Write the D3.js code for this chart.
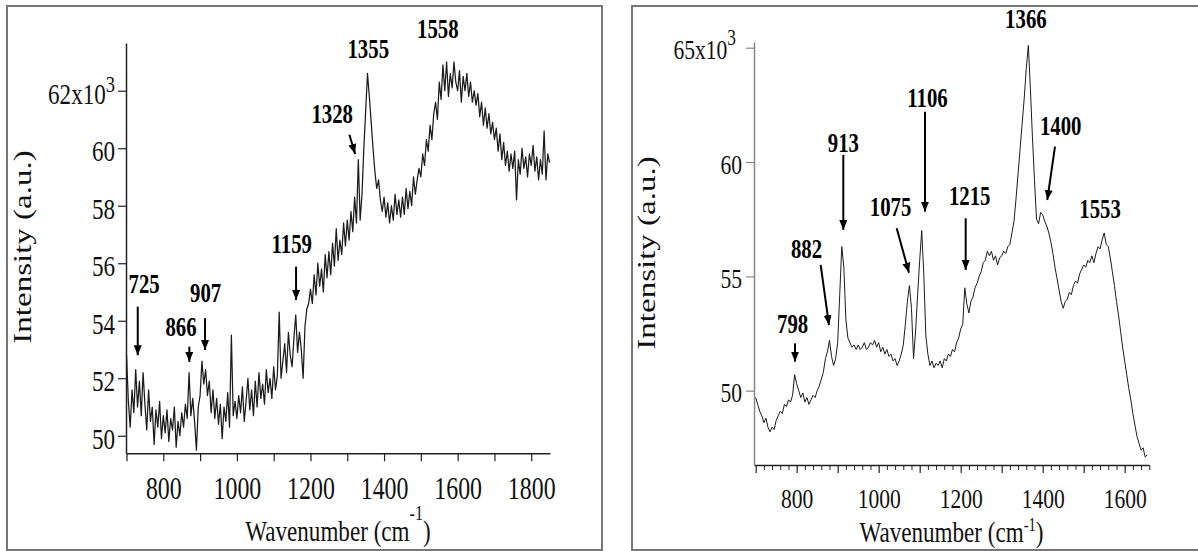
<!DOCTYPE html>
<html><head><meta charset="utf-8">
<script src="https://cdn.jsdelivr.net/npm/d3@7"></script>
<style>html,body{margin:0;padding:0;background:#fff;} svg{display:block}</style>
</head><body>
<svg id="c" width="1198" height="551"></svg>
<script>
// ---------- DATA ----------
// Left spectrum: wavenumber grid 700..1850 step 5 (cm-1), intensity in 10^3 a.u.
const leftStart = 700, leftStep = 5;
const leftIntensity = [
 52.8, 51.2, 50.3, 51.6, 50.8, 52.3, 51.0, 51.9, 50.7, 52.2,
 51.1, 50.2, 51.6, 50.5, 51.0, 49.7, 50.9, 50.3, 51.2, 49.9,
 50.7, 50.1, 50.9, 49.8, 50.6, 50.2, 51.0, 49.6, 50.5, 50.0,
 50.8, 50.3, 51.1, 50.6, 52.2, 50.7, 51.3, 50.5, 49.5, 51.0,
 51.4, 52.6, 51.8, 52.3, 51.4, 51.9, 50.8, 51.6, 50.6, 51.3,
 50.4, 51.1, 49.9, 51.0, 50.5, 51.5, 50.3, 53.5, 50.7, 51.2,
 50.6, 51.4, 50.8, 51.7, 50.5, 51.2, 52.0, 50.9, 51.6, 50.7,
 51.9, 51.0, 52.2, 51.3, 51.8, 51.1, 52.3, 51.5, 52.0, 51.3,
 52.4, 51.6, 52.1, 54.3, 52.0, 52.6, 53.2, 52.2, 53.6, 52.8,
 52.4, 53.4, 54.2, 52.9, 53.6, 53.0, 52.0, 53.8, 54.4, 54.6,
 55.1, 54.6, 55.6, 54.9, 56.0, 55.2, 55.8, 55.0, 56.3, 55.5,
 56.4, 55.6, 56.7, 55.9, 57.2, 56.1, 56.8, 56.3, 57.4, 56.6,
 57.5, 56.8, 57.8, 57.1, 58.3, 57.4, 59.6, 57.5, 58.4, 60.0,
 61.3, 62.6, 61.8, 60.9, 60.0, 59.2, 58.6, 58.9, 58.2, 57.8,
 58.3, 57.6, 58.1, 57.4, 58.0, 57.5, 58.4, 57.7, 58.2, 57.6,
 58.3, 57.7, 58.6, 57.9, 58.5, 58.0, 59.0, 58.4, 58.9, 59.3,
 59.0, 59.8, 59.4, 60.3, 59.9, 60.8, 60.3, 61.2, 61.6, 61.0,
 62.3, 61.7, 62.9, 62.0, 63.0, 61.8, 62.6, 62.1, 63.0, 62.3,
 62.0, 62.7, 61.6, 62.5, 62.0, 62.6, 61.8, 62.3, 61.6, 62.0,
 61.5, 61.9, 61.1, 61.6, 60.8, 61.4, 60.7, 61.2, 60.5, 60.9,
 60.3, 60.7, 59.9, 60.5, 59.6, 60.2, 59.4, 59.9, 59.2, 59.8,
 59.3, 59.9, 58.2, 59.6, 59.1, 60.0, 59.3, 59.7, 59.0, 59.8,
 59.4, 60.1, 59.2, 59.7, 58.9, 59.6, 59.1, 60.6, 58.9, 59.8,
 59.5
];
// Right spectrum: wavenumber grid 700..1655 step 5 (cm-1)
const rightStart = 700, rightStep = 5;
const rightIntensity = [
 49.7, 49.4, 49.1, 48.9, 48.6, 48.8, 48.4, 48.2, 48.4, 48.3,
 48.7, 48.9, 49.1, 49.0, 49.4, 49.3, 49.6, 49.5, 49.8, 50.7,
 50.3, 50.0, 49.7, 49.9, 49.5, 49.7, 49.4, 49.6, 49.8, 49.7,
 50.0, 50.2, 50.5, 50.8, 51.4, 51.7, 52.2, 51.5, 51.1, 51.4,
 52.1, 54.2, 56.3, 55.4, 53.1, 52.3, 52.1, 51.9, 52.0, 51.8,
 52.0, 51.8, 51.9, 52.1, 51.8, 51.9, 52.1, 52.0, 52.2, 51.9,
 52.1, 51.7, 51.9, 51.6, 51.8, 51.5, 51.6, 51.3, 51.4, 51.1,
 51.3, 51.6, 52.0, 52.9, 53.9, 54.6, 53.6, 51.4, 52.6, 54.2,
 55.7, 57.0, 55.1, 52.4, 51.6, 51.1, 51.3, 51.0, 51.2, 51.1,
 51.3, 51.0, 51.4, 51.3, 51.6, 51.5, 51.8, 51.7, 52.1, 52.3,
 52.7, 52.9, 54.5, 53.8, 53.4, 53.9, 54.1, 54.5, 54.7, 55.0,
 55.2, 55.6, 55.7, 56.1, 55.9, 56.1, 55.7, 55.9, 55.5, 55.8,
 55.9, 56.1, 56.0, 56.3, 56.4, 56.9, 57.4, 58.4, 59.5, 60.6,
 61.7, 62.8, 64.1, 65.1, 63.2, 61.1, 59.2, 57.5, 57.3, 57.8,
 57.7, 57.4, 57.2, 56.9, 56.5, 56.0, 55.4, 54.9, 54.4, 53.9,
 53.6, 53.9, 54.0, 54.3, 54.2, 54.6, 54.8, 54.7, 55.1, 55.3,
 55.5, 55.4, 55.7, 55.6, 55.9, 55.6, 56.0, 56.3, 56.2, 56.6,
 56.9, 56.4, 56.3, 55.8, 55.2, 54.6, 53.9, 53.3, 52.6, 51.9,
 51.3, 50.7, 50.1, 49.6, 49.0, 48.5, 48.0, 47.7, 47.4, 47.5,
 47.1, 47.2
];
// Tick values / labels
const leftXTicks = [700, 800, 900, 1000, 1100, 1200, 1300, 1400, 1500, 1600, 1700, 1800];
const leftXLabels = [800, 1000, 1200, 1400, 1600, 1800];
const leftYTicks = [50, 52, 54, 56, 58, 60, 62];
const rightXMajor = [700, 800, 900, 1000, 1100, 1200, 1300, 1400, 1500, 1600];
const rightXMinorStep = 20;
const rightXLabels = [800, 1000, 1200, 1400, 1600];
const rightYTicks = [50, 55, 60, 65];
const yTitle = "Intensity (a.u.)";
const xTitleMain = "Wavenumber (cm", xTitleSup = "-1", xTitleEnd = ")";
// Peak annotations (label position and arrow in data coordinates)
const leftPeaks = [
 {t:"725",  lx:748,  ly:54.96, a:[730.5,54.49,730.5,52.8]},
 {t:"866",  lx:848,  ly:53.47, a:[870.7,53.1,870.7,52.57]},
 {t:"907",  lx:915,  ly:54.66, a:[913.4,54.09,913.4,52.98]},
 {t:"1159", lx:1149, ly:56.35, a:[1160.8,55.88,1160.8,54.72]},
 {t:"1328", lx:1259, ly:60.87, a:[1305.8,60.47,1321.3,59.8]},
 {t:"1355", lx:1357, ly:63.13, a:null},
 {t:"1558", lx:1546, ly:63.82, a:null}
];
const rightPeaks = [
 {t:"798",  lx:790,  ly:52.51, a:[795.9,52.07,795.9,51.27]},
 {t:"882",  lx:824,  ly:55.79, a:[858.5,55.5,878.8,52.87]},
 {t:"913",  lx:914,  ly:60.45, a:[913.7,60.31,913.7,57.03]},
 {t:"1075", lx:1029, ly:57.65, a:[1043.9,57.1,1073.9,55.16]},
 {t:"1106", lx:1119, ly:62.42, a:[1112.9,62.2,1112.9,57.83]},
 {t:"1215", lx:1222, ly:58.12, a:[1212.2,57.54,1212.2,55.28]},
 {t:"1366", lx:1359, ly:65.85, a:null},
 {t:"1400", lx:1444, ly:61.18, a:[1430,60.67,1411.2,58.34]},
 {t:"1553", lx:1540, ly:57.54, a:null}
];

// ---------- DRAW ----------
const SX = 0.77;
const FONT = "'Liberation Serif','Times New Roman',serif";
const svg = d3.select("#c").attr("font-family", FONT);

svg.append("defs").append("marker")
  .attr("id","ah").attr("markerUnits","userSpaceOnUse")
  .attr("markerWidth",10).attr("markerHeight",10)
  .attr("viewBox","0 0 10 10").attr("refX",10).attr("refY",5)
  .attr("orient","auto")
  .append("path").attr("d","M0,1 L10,5 L0,9 Z").attr("fill","#000");

function panel(cfg) {
  const g = svg.append("g");
  g.append("rect").attr("x",cfg.box[0]).attr("y",cfg.box[1])
    .attr("width",cfg.box[2]).attr("height",cfg.box[3])
    .attr("fill","none").attr("stroke","#777").attr("stroke-width",2);

  const x = d3.scaleLinear().domain(cfg.xDom).range(cfg.xRange);
  const y = d3.scaleLinear().domain(cfg.yDom).range(cfg.yRange);
  const y0 = cfg.yRange[0], x0 = cfg.xRange[0];

  // minor x ticks
  if (cfg.xMinor) {
    g.append("g").attr("transform",`translate(0,${y0})`)
      .call(d3.axisBottom(x).tickValues(cfg.xMinor).tickSize(5).tickSizeOuter(0).tickFormat(""))
      .call(s => { s.select(".domain").remove(); s.selectAll("line").attr("stroke",cfg.xColor); });
  }
  // x axis
  const gx = g.append("g").attr("transform",`translate(0,${y0})`)
    .call(d3.axisBottom(x).tickValues(cfg.xTicks).tickSize(8).tickSizeOuter(0)
      .tickFormat(d => cfg.xLabels.includes(d) ? d : ""));
  gx.select(".domain").attr("stroke",cfg.xColor).attr("stroke-width",1.5);
  gx.selectAll("line").attr("stroke",cfg.xColor).attr("stroke-width",1.2);
  gx.selectAll("text").attr("dy",null).attr("y",cfg.xLabelY)
    .attr("transform",`scale(${SX},1)`).attr("font-size",cfg.xFont)
    .attr("font-family",FONT).attr("fill","#111");

  // y axis
  const gy = g.append("g").attr("transform",`translate(${x0},0)`)
    .call(d3.axisLeft(y).tickValues(cfg.yTicks).tickSize(8).tickSizeOuter(0));
  gy.select(".domain").attr("stroke",cfg.yColor).attr("stroke-width",1.5);
  gy.selectAll("line").attr("stroke",cfg.yColor).attr("stroke-width",1.2);
  const topTick = d3.max(cfg.yTicks);
  gy.selectAll("text").attr("dy",null).attr("y",cfg.yLabelDy)
    .attr("x",d => -(d===topTick ? cfg.yLabelGap + cfg.topShift : cfg.yLabelGap)/SX)
    .attr("transform",`scale(${SX},1)`).attr("font-size",cfg.yFont)
    .attr("font-family",FONT).attr("fill","#111")
    .each(function(d){
      if (d === topTick) {
        const t = d3.select(this); t.text("");
        t.append("tspan").text(d + "x10");
        t.append("tspan").attr("font-size",cfg.yFont*0.8).attr("dy",cfg.supDy).text("3");
      }
    });

  // spectrum
  const line = d3.line().x((d,i) => x(cfg.start + i*cfg.step)).y(d => y(d));
  g.append("path").datum(cfg.values).attr("d",line)
    .attr("fill","none").attr("stroke","#1c1c1c").attr("stroke-width",cfg.lineW)
    .attr("stroke-linejoin","round");

  // annotations
  cfg.peaks.forEach(p => {
    g.append("text").attr("transform",`translate(${x(p.lx)},${y(p.ly)}) scale(${SX},1)`)
      .attr("text-anchor","middle").attr("font-size",27).attr("font-weight","bold")
      .attr("fill","#000").text(p.t);
    if (p.a) {
      g.append("line").attr("x1",x(p.a[0])).attr("y1",y(p.a[1]))
        .attr("x2",x(p.a[2])).attr("y2",y(p.a[3]))
        .attr("stroke","#000").attr("stroke-width",2).attr("marker-end","url(#ah)");
    }
  });

  // axis titles
  const cx = (cfg.xRange[0]+cfg.xRange[1])/2;
  const tx = g.append("text").attr("transform",`translate(${cx},${cfg.xTitleY}) scale(${SX},1)`)
    .attr("text-anchor","middle").attr("font-size",30).attr("fill","#111");
  tx.append("tspan").text(xTitleMain);
  tx.append("tspan").attr("font-size",cfg.titleSupSize).attr("dy",cfg.titleSupDy).text(xTitleSup);
  tx.append("tspan").attr("dy",-cfg.titleSupDy).text(xTitleEnd);

  g.append("text").attr("transform",`translate(${cfg.yTitleX},${cfg.yTitleY}) scale(${SX},1) rotate(-90)`)
    .attr("text-anchor","middle").attr("font-size",33).attr("fill","#111").text(yTitle);
}

panel({
  box:[7,6,595,544],
  xDom:[698.6,1851], xRange:[126,550],
  yDom:[49.39,63.66], yRange:[453.3,43],
  xTicks:leftXTicks, xLabels:leftXLabels, xMinor:null,
  yTicks:leftYTicks, xColor:"#222", yColor:"#222",
  xLabelY:46, xFont:31, yFont:30, yLabelDy:12.6, yLabelGap:11, topShift:0, supDy:-12,
  start:leftStart, step:leftStep, values:leftIntensity, peaks:leftPeaks, lineW:1.25,
  xTitleY:541, yTitleX:31, yTitleY:247, titleSupSize:21, titleSupDy:-21
});

const rMinor = d3.range(700, 1661, rightXMinorStep).filter(v => !rightXMajor.includes(v));
panel({
  box:[632,6,600,544],
  xDom:[695.9,1659.3], xRange:[754,1149],
  yDom:[46.75,65.25], yRange:[465,42],
  xTicks:rightXMajor, xLabels:rightXLabels, xMinor:rMinor,
  yTicks:rightYTicks, xColor:"#222", yColor:"#888",
  xLabelY:43, xFont:28, yFont:28, yLabelDy:11, yLabelGap:12, topShift:6, supDy:-14,
  start:rightStart, step:rightStep, values:rightIntensity, peaks:rightPeaks, lineW:1,
  xTitleY:542, yTitleX:655, yTitleY:253, titleSupSize:19, titleSupDy:-11
});
</script>
</body></html>
